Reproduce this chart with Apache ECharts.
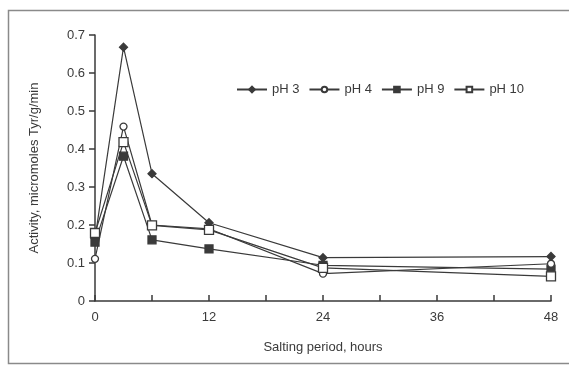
<!DOCTYPE html>
<html><head><meta charset="utf-8">
<script src="https://cdn.jsdelivr.net/npm/echarts@6/dist/echarts.min.js"></script>
<style>html,body{margin:0;padding:0;background:#fff}#c{width:569px;height:368px}</style>
</head><body><div id="c"></div>
<script>
const hours = [0, 3, 6, 12, 24, 48];
const pH3 = [0.165, 0.668, 0.335, 0.206, 0.114, 0.117];
const pH4 = [0.111, 0.459, 0.200, 0.190, 0.072, 0.098];
const pH9 = [0.155, 0.381, 0.161, 0.137, 0.094, 0.084];
const pH10 = [0.179, 0.418, 0.199, 0.187, 0.087, 0.065];
const seriesNames = ['pH 3', 'pH 4', 'pH 9', 'pH 10'];
const xTickLabels = [0, 12, 24, 36, 48];

const dark = '#3a3a3a';
const font = 'Liberation Sans, Arial, sans-serif';
function pts(v){ return hours.map((h,i)=>[h, v[i]]); }
function mk(name, data, symbol, filled, size){
  return {
    name, type:'line', data: pts(data), symbol, symbolSize: size,
    lineStyle:{color:dark, width:1.2},
    itemStyle:{color: filled ? dark : '#ffffff', borderColor: dark, borderWidth: 1.3},
    emphasis:{disabled:true}, animation:false, z: filled?3:4
  };
}
const chart = echarts.init(document.getElementById('c'));
chart.setOption({
  backgroundColor:'#ffffff',
  animation:false,
  textStyle:{fontFamily:font},
  graphic:[{type:'rect', shape:{x:8.5,y:10.5,width:580,height:353}, style:{fill:'none', stroke:'#8a8a8a', lineWidth:1.5}, silent:true}],
  legend:{
    data: seriesNames, left: 231, top: 78, itemWidth: 30, itemHeight: 7, itemGap: 9,
    textStyle:{color:dark, fontSize:13, fontFamily:font}
  },
  grid:{left:95, right:18, top:35, bottom:67},
  xAxis:{
    type:'value', min:0, max:48, interval:6,
    name:'Salting period, hours', nameLocation:'middle', nameGap:40,
    nameTextStyle:{color:dark, fontSize:13, fontFamily:font},
    axisLine:{lineStyle:{color:dark, width:1.5}},
    axisTick:{inside:true, length:6, lineStyle:{color:dark, width:1.5}},
    axisLabel:{color:dark, fontSize:13, margin:10, formatter: v => xTickLabels.includes(v) ? String(v) : ''},
    splitLine:{show:false}
  },
  yAxis:{
    type:'value', min:0, max:0.7, interval:0.1,
    name:'Activity, micromoles Tyr/g/min', nameLocation:'middle', nameGap:54,
    nameTextStyle:{color:dark, fontSize:13, fontFamily:font},
    axisLine:{show:true, lineStyle:{color:dark, width:1.5}},
    axisTick:{show:true, length:6, lineStyle:{color:dark, width:1.5}},
    axisLabel:{color:dark, fontSize:13, margin:10, formatter: v => v===0 ? '0' : v.toFixed(1)},
    splitLine:{show:false}
  },
  series:[
    mk('pH 3', pH3, 'diamond', true, 8),
    mk('pH 4', pH4, 'circle', false, 7),
    mk('pH 9', pH9, 'rect', true, 8),
    mk('pH 10', pH10, 'rect', false, 9)
  ]
});
</script></body></html>
